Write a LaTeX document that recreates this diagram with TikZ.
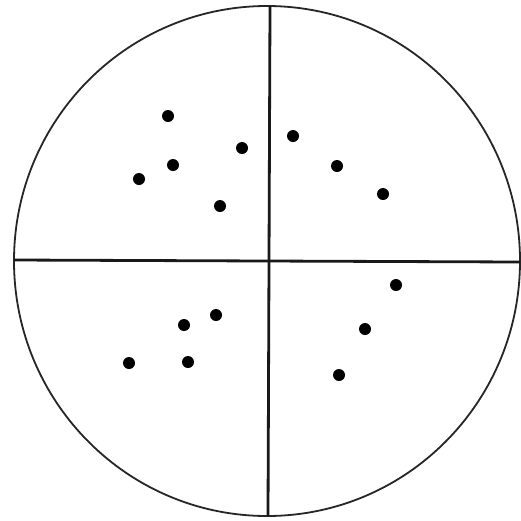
\documentclass[tikz,border=0pt]{standalone}
\begin{document}
\begin{tikzpicture}[x=1pt,y=-1pt,
  dot/.style={circle,fill=black,inner sep=0pt,minimum size=12pt},
  rim/.style={line width=1.8pt,draw=black!85},
  axis/.style={line width=2.8pt,draw=black!90}]
\useasboundingbox (0,0) rectangle (521,520);
\fill[white] (0,0) rectangle (521,520);
\node[draw=none,inner sep=0pt] (c) at (267,261) {};
\draw[rim] (c.center) circle[x radius=253pt,y radius=255pt];
\coordinate (top) at (270,6);
\coordinate (bot) at (268,516);
\coordinate (lft) at (14,260);
\coordinate (rgt) at (520,262);
\draw[axis] (top) -- (bot);
\draw[axis] (lft) -- (rgt);
\node[dot] (d1) at (168,116) {};
\node[dot] (d2) at (242,148) {};
\node[dot] (d3) at (173,165) {};
\node[dot] (d4) at (139,179) {};
\node[dot] (d5) at (220,206) {};
\node[dot] (d6) at (293,136) {};
\node[dot] (d7) at (337,166) {};
\node[dot] (d8) at (383,194) {};
\node[dot] (d9) at (216,315) {};
\node[dot] (d10) at (184,325) {};
\node[dot] (d11) at (129,363) {};
\node[dot] (d12) at (188,362) {};
\node[dot] (d13) at (396,285) {};
\node[dot] (d14) at (365,329) {};
\node[dot] (d15) at (339,375) {};
\end{tikzpicture}
\end{document}
